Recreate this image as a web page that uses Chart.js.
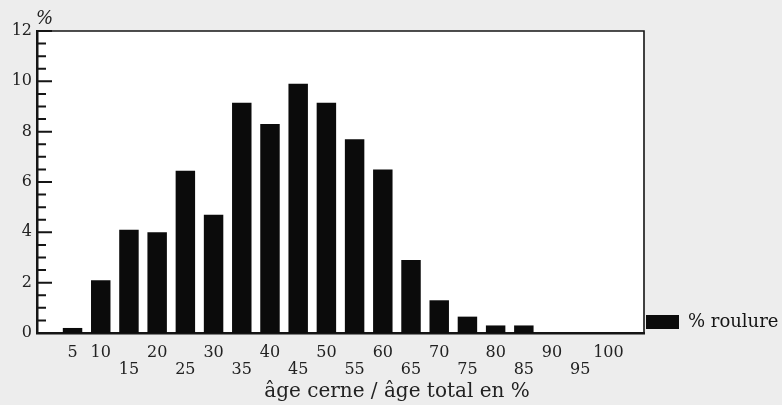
<!DOCTYPE html>
<html><head><meta charset="utf-8">
<script src="https://cdn.jsdelivr.net/npm/chart.js@4"></script>
<style>html,body{margin:0;padding:0;background:#ededed;overflow:hidden}</style>
</head><body>
<canvas id="c" width="782" height="405"></canvas>
<script>
const categories = [5,10,15,20,25,30,35,40,45,50,55,60,65,70,75,80,85,90,95,100];
const roulure = [0.2,2.1,4.1,4.0,6.45,4.7,9.15,8.3,9.9,9.15,7.7,6.5,2.9,1.3,0.65,0.3,0.3,0,0,0];
const xTickValues = [5,10,15,20,25,30,35,40,45,50,55,60,65,70,75,80,85,90,95,100];
const xTopRow = [5,10,20,30,40,50,60,70,80,90,100];
const yMinorTicks = [0.5,1,1.5,2.5,3,3.5,4.5,5,5.5,6.5,7,7.5,8.5,9,9.5,10.5,11,11.5];
const yMajorTicks = [2,4,6,8,10,12];
const seriesLabel = '% roulure';
const xAxisTitle = 'âge cerne / âge total en %';
const yUnit = '%';

const frame = {
  id: 'frame',
  beforeDraw(chart) {
    const {ctx, chartArea: a} = chart;
    ctx.save();
    ctx.fillStyle = '#ffffff';
    ctx.fillRect(a.left, a.top, a.right - a.left, a.bottom - a.top);
    ctx.restore();
  },
  afterDatasetsDraw(chart) {
    const {ctx, chartArea: a, scales: {y}} = chart;
    ctx.save();
    ctx.strokeStyle = '#151515';
    ctx.lineWidth = 1.6;
    ctx.beginPath();
    ctx.moveTo(a.left, a.top); ctx.lineTo(a.right, a.top); ctx.lineTo(a.right, a.bottom);
    ctx.stroke();
    ctx.lineWidth = 2;
    ctx.beginPath();
    yMajorTicks.forEach(v => { const p = y.getPixelForValue(v); ctx.moveTo(a.left, p); ctx.lineTo(a.left + 15, p); });
    yMinorTicks.forEach(v => { const p = y.getPixelForValue(v); ctx.moveTo(a.left, p); ctx.lineTo(a.left + 9, p); });
    ctx.stroke();
    ctx.fillStyle = '#222';
    ctx.font = 'italic 18px "DejaVu Serif"';
    ctx.textAlign = 'left';
    ctx.textBaseline = 'middle';
    ctx.fillText(yUnit, a.left - 1, a.top - 12);
    ctx.restore();
  }
};

new Chart(document.getElementById('c'), {
  type: 'bar',
  data: {
    datasets: [{
      label: seriesLabel,
      data: categories.map((c, i) => ({x: c, y: roulure[i]})),
      backgroundColor: '#0b0b0b',
      borderWidth: 0,
      categoryPercentage: 1,
      barPercentage: 0.69
    }]
  },
  options: {
    responsive: false,
    animation: false,
    devicePixelRatio: 1,
    layout: {padding: {top: 31, left: 12, right: 0, bottom: 0}},
    scales: {
      x: {
        type: 'linear', min: -1.3, max: 106.3, offset: false,
        grid: {display: false, drawTicks: false},
        border: {display: true, color: '#151515', width: 2.5},
        afterBuildTicks: s => { s.ticks = xTickValues.map(v => ({value: v})); },
        afterFit: s => { s.height = 45.5; },
        ticks: {
          autoSkip: false, maxRotation: 0, padding: 11.5, color: '#222',
          font: {family: 'DejaVu Serif', size: 16, lineHeight: '17px'},
          callback: v => xTopRow.includes(v) ? [String(v)] : ['', String(v)]
        }
      },
      y: {
        min: 0, max: 12,
        grid: {display: false, drawTicks: false},
        border: {display: true, color: '#151515', width: 2.5},
        afterFit: s => { s.width = 25; },
        ticks: {stepSize: 2, padding: 5, color: '#222', font: {family: 'DejaVu Serif', size: 16}}
      }
    },
    plugins: {
      tooltip: {enabled: false},
      legend: {
        position: 'right', align: 'end', fullSize: false, maxWidth: 138,
        labels: {boxWidth: 33, boxHeight: 14, padding: 2, color: '#151515',
          font: {family: 'DejaVu Serif', size: 18}}
      },
      title: {
        display: true, text: xAxisTitle, position: 'bottom', color: '#222',
        font: {family: 'DejaVu Serif', size: 20, weight: 'normal', lineHeight: '24px'},
        padding: {top: 1.5, bottom: 1}
      }
    }
  },
  plugins: [frame]
});
</script>
</body></html>
